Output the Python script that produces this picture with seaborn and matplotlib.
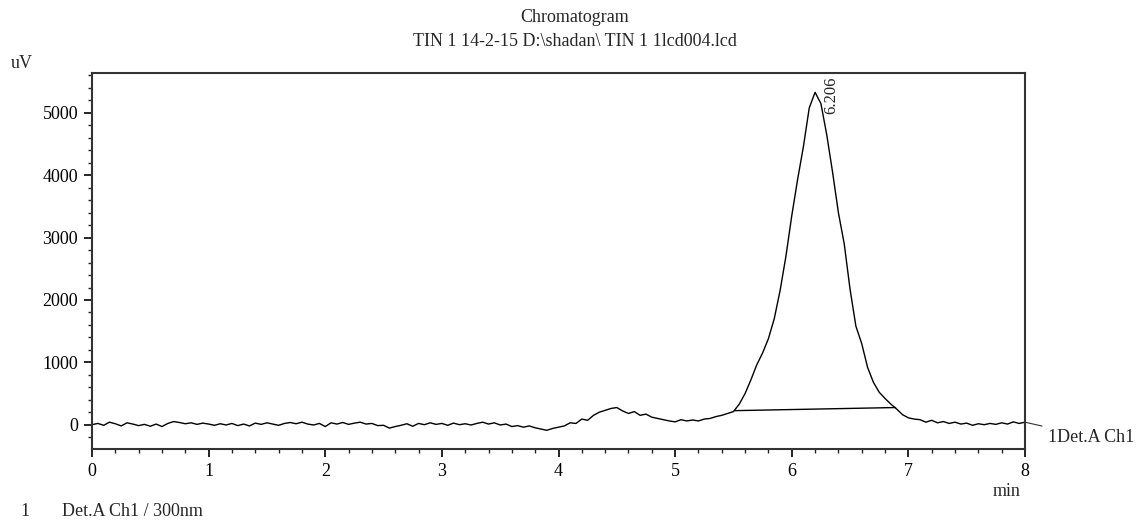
import numpy as np
import pandas as pd
import matplotlib
matplotlib.use("Agg")
import matplotlib.pyplot as plt
from matplotlib.ticker import MultipleLocator
import seaborn as sns

# retention time grid (min) and detector signal (uV)
time_min = [round(i * 0.05, 2) for i in range(161)]
signal_uv = [
    0, 20, -10, 40, 15, -20, 30, 10, -15, 5,
    -25, 10, -30, 20, 50, 35, 15, 30, 5, 25,
    10, -10, 15, -5, 20, -15, 10, -20, 25, 5,
    30, 10, -10, 20, 35, 15, 40, 10, -5, 20,
    -30, 30, 10, 35, 5, 25, 40, 10, 20, -15,
    -10, -55, -30, -10, 15, -25, 20, 0, 30, 5,
    20, -10, 25, 0, 15, -5, 20, 40, 10, 30,
    -5, 10, -30, -15, -40, -20, -50, -70, -90, -60,
    -40, -20, 30, 20, 90, 70, 150, 200, 230, 260,
    275, 220, 180, 210, 150, 170, 120, 100, 80, 60,
    45, 80, 60, 75, 60, 90, 100, 130, 150, 180,
    210, 330, 500, 720, 960, 1150, 1380, 1700, 2150, 2700,
    3350, 3930, 4460, 5080, 5330, 5150, 4650, 4050, 3400, 2900,
    2170, 1580, 1300, 920, 680, 520, 420, 330, 250, 160,
    110, 90, 80, 40, 70, 30, 50, 20, 40, 10,
    25, -10, 15, 0, 20, 5, 30, 10, 45, 20,
    40,
]

# integration baseline under the main peak
peak_base_time = [5.51, 6.89]
peak_base_uv = [225, 275]

peak_time = 6.206
peak_height = 5330

df = pd.DataFrame({"time": time_min, "signal": signal_uv})
base_df = pd.DataFrame({"time": peak_base_time, "signal": peak_base_uv})

sns.set_style("ticks")
plt.rcParams["font.family"] = ["Liberation Serif", "DejaVu Serif"]
FS = 13

W, H = 1138, 521
fig = plt.figure(figsize=(W / 100, H / 100), dpi=100)
ax = fig.add_axes([92 / W, 1 - 449 / H, (1025 - 92) / W, (449 - 73) / H])

sns.lineplot(data=df, x="time", y="signal", color="black", lw=1.0,
             estimator=None, ax=ax)
sns.lineplot(data=base_df, x="time", y="signal", color="black", lw=1.0,
             estimator=None, ax=ax)

ax.set_xlim(0, 8)
ax.set_ylim(-390, 5640)
ax.xaxis.set_major_locator(MultipleLocator(1))
ax.xaxis.set_minor_locator(MultipleLocator(0.2))
ax.yaxis.set_major_locator(MultipleLocator(1000))
ax.yaxis.set_minor_locator(MultipleLocator(200))
ax.tick_params(which="major", direction="out", length=6, width=1.2,
               labelsize=FS, colors="black", pad=4)
ax.tick_params(which="minor", direction="out", length=3, width=1.0)
for s in ax.spines.values():
    s.set_visible(True)
    s.set_linewidth(1.5)
    s.set_color("#333333")
ax.set_xlabel("")
ax.set_ylabel("")

# retention time label beside the apex
ax.annotate(f"{peak_time:.3f}", xy=(peak_time, peak_height), xytext=(15, -22),
            textcoords="offset pixels", rotation=90, ha="center", va="bottom",
            fontsize=12)

ax.annotate("1Det.A Ch1", xy=(time_min[-1], signal_uv[-1]), xytext=(23, -15),
            textcoords="offset pixels", ha="left", va="center", fontsize=FS,
            annotation_clip=False,
            arrowprops=dict(arrowstyle="-", lw=0.8, color="#333333",
                            shrinkA=2, shrinkB=0))

def ftext(x, y, s, **kw):
    fig.text(x / W, 1 - y / H, s, fontsize=FS, va="center", **kw)

ftext(575, 18, "Chromatogram", ha="center")
ftext(575, 41, "TIN 1 14-2-15 D:\\shadan\\ TIN 1 1lcd004.lcd", ha="center")
ftext(22, 63, "uV", ha="center")
ftext(1007, 491, "min", ha="center")
ftext(20, 511, "1", ha="left")
ftext(62, 511, "Det.A Ch1 / 300nm", ha="left")

fig.savefig("out.png", dpi=100)
